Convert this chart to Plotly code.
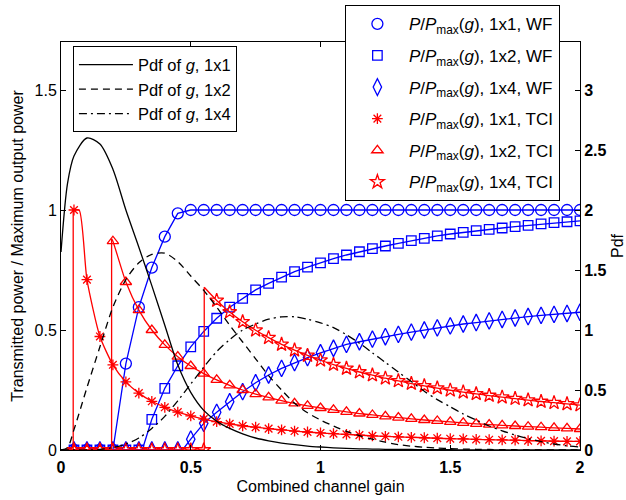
import plotly.graph_objects as go

# ---------------- data ----------------
g = [0.05, 0.10, 0.15, 0.20, 0.25, 0.30, 0.35, 0.40, 0.45, 0.50,
     0.55, 0.60, 0.65, 0.70, 0.75, 0.80, 0.85, 0.90, 0.95, 1.00,
     1.05, 1.10, 1.15, 1.20, 1.25, 1.30, 1.35, 1.40, 1.45, 1.50,
     1.55, 1.60, 1.65, 1.70, 1.75, 1.80, 1.85, 1.90, 1.95, 2.00]

wf_1x1 = [0, 0, 0, 0, 0.36, 0.595, 0.76, 0.889, 0.986, 1.0,
          1.0, 1.0, 1.0, 1.0, 1.0, 1.0, 1.0, 1.0, 1.0, 1.0,
          1.0, 1.0, 1.0, 1.0, 1.0, 1.0, 1.0, 1.0, 1.0, 1.0,
          1.0, 1.0, 1.0, 1.0, 1.0, 1.0, 1.0, 1.0, 1.0, 1.0]
wf_1x2 = [0, 0, 0, 0, 0, 0, 0.128, 0.257, 0.351, 0.43,
          0.494, 0.549, 0.595, 0.632, 0.667, 0.694, 0.72, 0.743, 0.762, 0.78,
          0.797, 0.8125, 0.826, 0.839, 0.85, 0.861, 0.872, 0.882, 0.892, 0.9,
          0.907, 0.914, 0.919, 0.925, 0.931, 0.936, 0.942, 0.947, 0.951, 0.955]
wf_1x4 = [0, 0, 0, 0, 0, 0, 0, 0, 0, 0.045,
          0.111, 0.157, 0.201, 0.243, 0.28, 0.3125, 0.34, 0.364, 0.385, 0.405,
          0.424, 0.44, 0.451, 0.462, 0.472, 0.482, 0.491, 0.5, 0.509, 0.517,
          0.525, 0.531, 0.538, 0.544, 0.55, 0.556, 0.561, 0.565, 0.569, 0.574]

tci_1x1 = [1.0, 0.71, 0.473, 0.355, 0.284, 0.237, 0.203, 0.178, 0.158, 0.142,
           0.129, 0.118, 0.109, 0.101, 0.095, 0.089, 0.084, 0.079, 0.075, 0.071,
           0.068, 0.065, 0.062, 0.059, 0.057, 0.055, 0.053, 0.051, 0.049, 0.047,
           0.046, 0.044, 0.043, 0.042, 0.041, 0.039, 0.038, 0.037, 0.036, 0.036]
tci_1x2 = [0, 0, 0, 0.87, 0.7, 0.583, 0.5, 0.438, 0.389, 0.35,
           0.318, 0.292, 0.269, 0.25, 0.233, 0.219, 0.206, 0.194, 0.184, 0.175,
           0.167, 0.159, 0.152, 0.146, 0.14, 0.135, 0.13, 0.125, 0.121, 0.117,
           0.113, 0.109, 0.106, 0.103, 0.1, 0.097, 0.095, 0.092, 0.09, 0.0875]
tci_1x4 = [0, 0, 0, 0, 0, 0, 0, 0, 0, 0,
           0, 0.623, 0.575, 0.534, 0.499, 0.468, 0.44, 0.416, 0.394, 0.374,
           0.356, 0.34, 0.325, 0.312, 0.299, 0.288, 0.277, 0.267, 0.258, 0.249,
           0.241, 0.234, 0.227, 0.22, 0.214, 0.208, 0.202, 0.197, 0.192, 0.187]

# switch-on thresholds of each curve (gain, value at the jump)
wf_thr = [0.20, 0.313, 0.468]
tci_thr = [0.047, 0.195, 0.552]
tci_top = [1.0, 0.88, 0.678]
tci_cap_end = 0.07  # 1x1 TCI stays at 1 up to here

pdf_g = [0, 0.025, 0.05, 0.10, 0.15, 0.20, 0.25, 0.30, 0.35, 0.40, 0.45, 0.50,
         0.55, 0.60, 0.65, 0.70, 0.75, 0.80, 0.85, 0.90, 0.95, 1.00,
         1.05, 1.10, 1.15, 1.20, 1.25, 1.30, 1.35, 1.40, 1.45, 1.50,
         1.55, 1.60, 1.65, 1.70, 1.75, 1.80, 1.85, 1.90, 1.95, 2.00]
pdf_1x1 = [1.65, 2.22, 2.45, 2.6, 2.55, 2.34, 2.0, 1.69, 1.37, 1.04, 0.71, 0.48,
           0.33, 0.24, 0.18, 0.135, 0.1, 0.076, 0.058, 0.044, 0.033, 0.025,
           0.018, 0.013, 0.01, 0.008, 0.006, 0.005, 0.004, 0.003, 0.002, 0.002,
           0.001, 0.001, 0.001, 0, 0, 0, 0, 0, 0, 0]
pdf_1x2 = [0, 0.02, 0.17, 0.52, 0.86, 1.19, 1.42, 1.56, 1.63, 1.64, 1.57, 1.45,
           1.33, 1.19, 1.04, 0.9, 0.76, 0.62, 0.5, 0.39, 0.31, 0.25,
           0.2, 0.155, 0.12, 0.09, 0.065, 0.045, 0.032, 0.023, 0.016, 0.011,
           0.008, 0.006, 0.004, 0.003, 0.002, 0.001, 0.001, 0.001, 0, 0]
pdf_1x4 = [0, 0, 0, 0, 0.005, 0.02, 0.05, 0.1, 0.18, 0.28, 0.41, 0.55,
           0.69, 0.82, 0.92, 1.0, 1.05, 1.09, 1.11, 1.11, 1.09, 1.06,
           1.02, 0.96, 0.89, 0.81, 0.73, 0.65, 0.57, 0.49, 0.42, 0.36,
           0.3, 0.25, 0.2, 0.16, 0.125, 0.095, 0.07, 0.05, 0.035, 0.025]

configs = ["1x1", "1x2", "1x4"]
x_ticks = [0, 0.5, 1, 1.5, 2]
y_ticks = [0, 0.5, 1, 1.5]
y2_ticks = [0, 0.5, 1, 1.5, 2, 2.5, 3]

# ---------------- styles ----------------
FONT = "Liberation Sans, Arial, Helvetica, sans-serif"
BLUE = "rgb(0,0,255)"
RED = "rgb(255,0,0)"
LW = 1.3
pdf_dash = ["solid", "7px,5px", "8px,4px,2px,4px"]
wf_sym = [("circle-open", 11), ("square-open", 9.5), ("diamond-tall-open", 12)]
tci_sym = [("asterisk-open", 9), ("triangle-up-open", 10), ("star-open", 10.5)]

fig = go.Figure()

# pdf curves on the right axis
for cfg, ys, dash in zip(configs, [pdf_1x1, pdf_1x2, pdf_1x4], pdf_dash):
    fig.add_trace(go.Scatter(
        x=pdf_g, y=ys, yaxis="y2", mode="lines",
        line=dict(color="black", width=LW, dash=dash, shape="spline", smoothing=0.8),
        name=f"Pdf of <i>g</i>, {cfg}", legend="legend", legendgroup="pdf" + cfg,
        hoverinfo="skip"))

def label(cfg, scheme):
    return f"<i>P</i>/<i>P</i><sub>max</sub>(<i>g</i>), {cfg}, {scheme}"

# water-filling curves
for cfg, ys, thr, (sym, sz) in zip(configs, [wf_1x1, wf_1x2, wf_1x4], wf_thr, wf_sym):
    lx = [0, thr] + [gi for gi in g if gi > thr]
    ly = [0, 0] + [yi for gi, yi in zip(g, ys) if gi > thr]
    fig.add_trace(go.Scatter(x=lx, y=ly, mode="lines",
                             line=dict(color=BLUE, width=LW), showlegend=False,
                             hoverinfo="skip"))
    fig.add_trace(go.Scatter(x=g, y=ys, mode="markers",
                             marker=dict(symbol=sym, size=sz, color=BLUE,
                                         line=dict(color=BLUE, width=1.3)),
                             name=label(cfg, "WF"), legend="legend2",
                             legendgroup="wf" + cfg))

# truncated channel inversion curves
for i, (cfg, ys, thr, top, (sym, sz)) in enumerate(
        zip(configs, [tci_1x1, tci_1x2, tci_1x4], tci_thr, tci_top, tci_sym)):
    fig.add_trace(go.Scatter(x=[0, thr, thr], y=[0, 0, top], mode="lines",
                             line=dict(color=RED, width=LW), showlegend=False,
                             hoverinfo="skip"))
    cx = [thr] + ([tci_cap_end] if i == 0 else [])
    cy = [top] + ([top] if i == 0 else [])
    start = cx[-1]
    cx += [gi for gi in g if gi > start]
    cy += [yi for gi, yi in zip(g, ys) if gi > start]
    fig.add_trace(go.Scatter(x=cx, y=cy, mode="lines",
                             line=dict(color=RED, width=LW, shape="spline", smoothing=0.6),
                             showlegend=False, hoverinfo="skip"))
    fig.add_trace(go.Scatter(x=g, y=ys, mode="markers",
                             marker=dict(symbol=sym, size=sz, color=RED,
                                         line=dict(color=RED, width=1.3)),
                             name=label(cfg, "TCI"), legend="legend2",
                             legendgroup="tci" + cfg))

tick_font = dict(family=FONT, size=16, color="black")
bold_font = dict(family=FONT, size=16, color="black", weight="bold")

fig.update_layout(
    width=626, height=500,
    margin=dict(l=61, r=46, t=42, b=50, autoexpand=False),
    paper_bgcolor="white", plot_bgcolor="white",
    font=dict(family=FONT, size=16, color="black"),
    xaxis=dict(range=[0, 2], tickvals=x_ticks, ticktext=[f"{v:g}" for v in x_ticks],
               ticks="inside", ticklen=5, tickcolor="black", showline=True,
               linecolor="black", linewidth=1, mirror="ticks", showgrid=False,
               zeroline=False, tickfont=bold_font, automargin=False,
               ticklabelstandoff=3,
               title=dict(text="Combined channel gain", font=tick_font, standoff=5)),
    yaxis=dict(range=[0, 1.7], tickvals=y_ticks, ticktext=[f"{v:g}" for v in y_ticks],
               ticks="inside", ticklen=5, tickcolor="black", showline=True,
               linecolor="black", linewidth=1, showgrid=False, zeroline=False,
               tickfont=tick_font, automargin=False,
               title=dict(text="Transmitted power / Maximum output power",
                          font=tick_font, standoff=6)),
    yaxis2=dict(range=[0, 3.4], tickvals=y2_ticks, ticktext=[f"{v:g}" for v in y2_ticks],
                overlaying="y", side="right", ticks="inside", ticklen=5,
                tickcolor="black", showline=True, linecolor="black", linewidth=1,
                showgrid=False, zeroline=False, tickfont=bold_font, automargin=False,
                title=dict(text="Pdf", font=tick_font, standoff=6)),
    legend=dict(x=0.023, y=0.989, xanchor="left", yanchor="top",
                bgcolor="white", bordercolor="black", borderwidth=1,
                font=dict(family=FONT, size=16.5, color="black"),
                tracegroupgap=0, itemwidth=54),
    legend2=dict(x=0.547, y=1.09, xanchor="left", yanchor="top",
                 bgcolor="white", bordercolor="black", borderwidth=1,
                 font=dict(family=FONT, size=17, color="black"),
                 tracegroupgap=6.5, itemwidth=53),
)

fig.write_html("out.html")
